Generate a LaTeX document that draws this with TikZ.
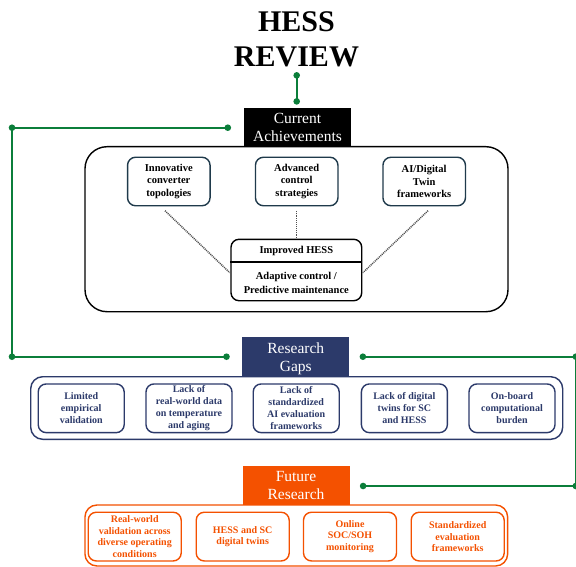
\documentclass[tikz,border=0pt]{standalone}
\usepackage{fontspec}
\setmainfont{Liberation Serif}
\usetikzlibrary{calc}

\definecolor{railgreen}{HTML}{0B7E3A}
\definecolor{gapnavy}{HTML}{2C3A6A}
\definecolor{futorange}{HTML}{F45100}
\definecolor{slateline}{HTML}{1F3A4B}
\definecolor{dotgray}{HTML}{505050}

\begin{document}
\begin{tikzpicture}[x=1pt,y=-1pt,
  headbox/.style={minimum width=107pt, minimum height=39.4pt, inner sep=0pt,
    text=white, align=center, text depth=0pt,
    font=\fontsize{15.5}{18.6}\selectfont},
  outerbox/.style={draw=#1, line width=1.4pt, inner sep=0pt},
  topicbox/.style={draw=slateline, line width=1.4pt, rounded corners=8pt,
    minimum width=82.5pt, minimum height=48.5pt, inner sep=0pt, align=center,
    text=black, font=\fontsize{10.5}{12.7}\selectfont\bfseries},
  imptext/.style={inner sep=0pt, align=center, text=black,
    font=\fontsize{10.5}{13.3}\selectfont\bfseries},
  gapbox/.style={draw=gapnavy, line width=1.4pt, rounded corners=8pt,
    minimum width=86pt, minimum height=48.7pt, inner sep=0pt, align=center,
    text=gapnavy, font=\fontsize{10}{12}\selectfont\bfseries},
  futbox/.style={draw=futorange, line width=1.4pt, rounded corners=8pt,
    minimum width=93pt, minimum height=48.7pt, inner sep=0pt, align=center,
    text=futorange, font=\fontsize{10}{11.55}\selectfont\bfseries},
  link/.style={draw=railgreen, line width=2.3pt},
  dotlink/.style={draw=dotgray, line width=1.5pt, dash pattern=on 1pt off 0.9pt},
]
\useasboundingbox (0,0) rectangle (576,567);
\fill[white] (0,0) rectangle (576,567);

% title
\node[inner sep=0pt, align=center, font=\fontsize{30}{35}\selectfont\bfseries]
  (title) at (296.5,39.5) {HESS\\REVIEW};

% current achievements
\node[outerbox=black, rounded corners=22pt, minimum width=423pt, minimum height=165pt]
  (achframe) at (296.5,229.2) {};
\node[headbox, fill=black] (ach) at (297.5,127.3) {Current\\Achievements};

\node[topicbox] (b1) at (168.8,181.5) {Innovative\\converter\\topologies};
\node[topicbox] (b2) at (296.7,181.5) {Advanced\\control\\strategies};
\node[topicbox] (b3) at (424.2,181.5) {AI/Digital\\Twin\\frameworks};

\node[draw=black, line width=1.4pt, rounded corners=8pt, minimum width=130.7pt,
  minimum height=61.4pt, inner sep=0pt] (imp) at (296.35,270) {};
\draw[line width=2.4pt] ($(imp.north west)+(0,23.4)$) -- ($(imp.north east)+(0,23.4)$);
\node[imptext, anchor=base] (impA) at ($(imp.north)+(0,14.7)$) {Improved HESS};
\node[imptext] (impB) at ($(imp.center)+(0,13)$) {Adaptive control /\\Predictive maintenance};

\draw[dotlink] ($(b1.south)+(-3.8,4.3)$) -- ($(imp.west)+(-0.5,2.7)$);
\draw[dotlink] ($(b2.south)+(0,4.3)$) -- (b2.south |- imp.north);
\draw[dotlink] ($(b3.south)+(3.8,4.3)$) -- ($(imp.east)+(0.5,2.7)$);

% research gaps
\node[outerbox=gapnavy, rounded corners=12pt, minimum width=532pt, minimum height=62.6pt]
  (gapframe) at (296.7,408) {};
\node[headbox, fill=gapnavy] (gaps) at (295.8,357) {Research\\Gaps};

\node[gapbox] (g1) at (81.2,408.3) {Limited\\empirical\\validation};
\node[gapbox] (g2) at (189,408.3) {Lack of\\real-world data\\on temperature\\and aging};
\node[gapbox] (g3) at (296.2,408.3) {Lack of\\standardized\\AI evaluation\\frameworks};
\node[gapbox] (g4) at (404.4,408.3) {Lack of digital\\twins for SC\\and HESS};
\node[gapbox] (g5) at (512,408.3) {On-board\\computational\\burden};

% future research
\node[outerbox=futorange, rounded corners=12pt, minimum width=422.7pt, minimum height=61pt]
  (futframe) at (296.3,535.5) {};
\node[headbox, fill=futorange] (fut) at (296,485.5) {Future\\Research};

\node[futbox] (f1) at (134.7,536.6) {Real-world\\validation across\\diverse operating\\conditions};
\node[futbox] (f2) at (242.7,536.6) {HESS and SC\\digital twins};
\node[futbox] (f3) at (350,536.6) {Online\\SOC/SOH\\monitoring};
\node[futbox] (f4) at (457.7,536.6) {Standardized\\evaluation\\frameworks};

% green rails between the sections
\coordinate (railL) at (12,0);
\coordinate (railR) at (575.8,0);
\coordinate (d2) at ($(ach.north)+(-0.8,-6)$);
\coordinate (d1) at ($(title.south -| d2)+(0,8)$);
\coordinate (aL) at ($(ach.west)+(-16,0.4)$);
\coordinate (aLc) at (aL -| railL);
\coordinate (gL) at ($(gaps.west)+(-15.6,-0.3)$);
\coordinate (gLc) at (gL -| railL);
\coordinate (gR) at ($(gaps.east)+(13.4,-0.3)$);
\coordinate (gRc) at (gR -| railR);
\coordinate (fR) at ($(fut.east)+(13.4,0.5)$);
\coordinate (fRc) at (fR -| railR);

\draw[link] (d1) -- (d2);
\draw[link] (aL) -- (aLc) -- (gLc) -- (gL);
\draw[link] (gR) -- (gRc) -- (fRc) -- (fR);
\foreach \p in {d1,d2,aL,aLc,gL,gLc,gR,gRc,fR,fRc}
  \fill[railgreen] (\p) circle[radius=3.3pt];
\end{tikzpicture}
\end{document}
